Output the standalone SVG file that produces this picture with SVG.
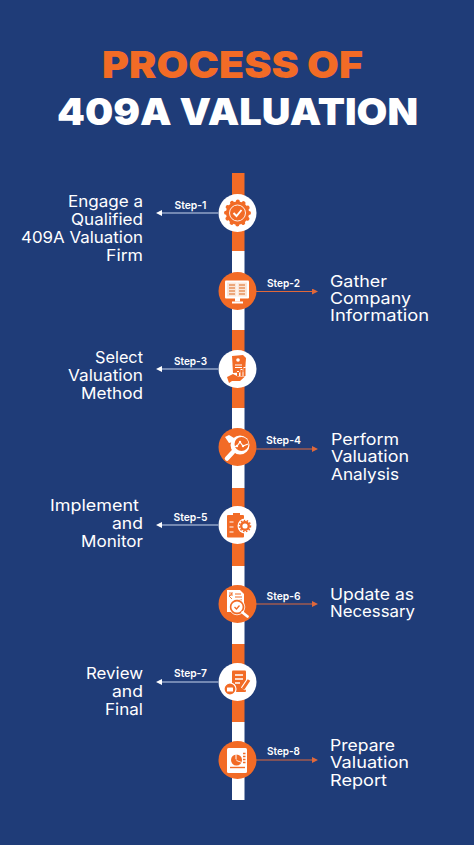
<svg xmlns="http://www.w3.org/2000/svg" width="474" height="845" viewBox="0 0 474 845">
<style>
.t{font-family:"Inter","Liberation Sans",sans-serif;font-weight:900;font-size:37px;text-anchor:middle}
.b{font-family:"Inter","Liberation Sans",sans-serif;font-size:16.500px;fill:#fff;font-weight:400}
.l{text-anchor:end}
.s{font-family:"Inter","Liberation Sans",sans-serif;font-size:11px;font-weight:600;fill:#fff;text-anchor:middle}
.o{fill:#f26b26}.w{fill:#fff}
.cw{stroke:#c9d6ee;stroke-width:1.2;fill:none}
.co{stroke:#e0683a;stroke-width:1.2;fill:none}
.lw{stroke:#fff;fill:none}
.lo{stroke:#f26b26;fill:none}
</style>
<defs>
<marker id="aw" markerUnits="userSpaceOnUse" markerWidth="7" markerHeight="7" refX="0" refY="3" orient="auto"><path d="M0 0L6 3L0 6Z" fill="#fff"/></marker>
<marker id="ao" markerUnits="userSpaceOnUse" markerWidth="7" markerHeight="7" refX="0" refY="3" orient="auto"><path d="M0 0L6 3L0 6Z" fill="#e0683a"/></marker>
</defs>
<rect width="474" height="845" fill="#1f3c78"/>
<text class="t" x="232.500" y="78" fill="#f26b26" textLength="261" lengthAdjust="spacingAndGlyphs">PROCESS OF</text>
<text class="t" x="237.500" y="125" fill="#fff" textLength="361" lengthAdjust="spacingAndGlyphs">409A VALUATION</text>
<g id="spine">
<rect class="o" x="232" y="173" width="12.500" height="78"/><rect class="w" x="232" y="251" width="12.500" height="79"/>
<rect class="o" x="232" y="330" width="12.500" height="78"/><rect class="w" x="232" y="408" width="12.500" height="80"/>
<rect class="o" x="232" y="488" width="12.500" height="78"/><rect class="w" x="232" y="566" width="12.500" height="78"/>
<rect class="o" x="232" y="644" width="12.500" height="78"/><rect class="w" x="232" y="722" width="12.500" height="78"/>
</g>
<g id="connectors">
<path class="cw" d="M218 213H162" marker-end="url(#aw)"/>
<path class="co" d="M256 291.500H312" marker-end="url(#ao)"/>
<path class="cw" d="M218 369H162" marker-end="url(#aw)"/>
<path class="co" d="M256 449H312" marker-end="url(#ao)"/>
<path class="cw" d="M218 525H162" marker-end="url(#aw)"/>
<path class="co" d="M256 604H312" marker-end="url(#ao)"/>
<path class="cw" d="M218 682H162" marker-end="url(#aw)"/>
<path class="co" d="M256 760H312" marker-end="url(#ao)"/>
</g>
<g id="n1"><circle class="w" cx="237.500" cy="213" r="19"/>
<circle class="o" cx="237.500" cy="213" r="11.500"/><circle cx="237.500" cy="213" r="11.500" fill="none" stroke="#f26b26" stroke-width="4" stroke-linecap="round" stroke-dasharray="0.01 6.010"/>
<circle class="lw" cx="237.500" cy="213" r="8" stroke-width=".9"/><path class="lw" d="M233.500 213l3 3 5-6" stroke-width="1.900"/>
<text class="s" x="190.500" y="208.500" textLength="32" lengthAdjust="spacingAndGlyphs">Step-1</text>
<text class="b l" x="143" y="207" textLength="75" lengthAdjust="spacingAndGlyphs">Engage a</text><text class="b l" x="143" y="225" textLength="72" lengthAdjust="spacingAndGlyphs">Qualified</text><text class="b l" x="143" y="243" textLength="122" lengthAdjust="spacingAndGlyphs">409A Valuation</text><text class="b l" x="143" y="261" textLength="37" lengthAdjust="spacingAndGlyphs">Firm</text></g>
<g id="n2"><circle class="o" cx="237.500" cy="291" r="19"/><rect class="w" x="225" y="280.500" width="24" height="18" rx="1"/><rect x="227" y="282.500" width="20" height="14" fill="#fbe6d8"/><path class="w" d="M236.500 282.500h1v14h-1z"/>
<path d="M229 285h6M229 288h6M229 291h6M229 294h6M239 285h6M239 288h6M239 291h6M239 294h6" stroke="#e8935c" stroke-width="1.300" fill="none"/><rect class="w" x="235" y="298" width="5" height="3.500"/><rect class="w" x="232" y="301.500" width="11" height="2"/>
<text class="s" x="283.500" y="287" textLength="33" lengthAdjust="spacingAndGlyphs">Step-2</text>
<text class="b" x="330" y="287" textLength="57" lengthAdjust="spacingAndGlyphs">Gather</text><text class="b" x="330" y="304" textLength="81" lengthAdjust="spacingAndGlyphs">Company</text><text class="b" x="330" y="321" textLength="99" lengthAdjust="spacingAndGlyphs">Information</text></g>
<g id="n3"><circle class="w" cx="237.500" cy="369" r="19"/><path class="o" d="M232 356l11-1 3 3-1 14-12 1z"/><circle cx="238" cy="360" r="1.800" class="w"/><path class="lw" d="M235 365h7M235 367.500h7" stroke-width="1"/>
<path class="o" d="M227 377l6-3 5 2.500h7l-5 4.500h-8l-3 2z"/><path class="lw" d="M238 376v-5M241.500 376v-7M244.500 376v-9" stroke-width="2"/><path class="lo" d="M238 376v-4M241.500 376v-6M244.500 376v-8" stroke-width="2"/>
<text class="s" x="190.500" y="365" textLength="33" lengthAdjust="spacingAndGlyphs">Step-3</text>
<text class="b l" x="143" y="363" textLength="48" lengthAdjust="spacingAndGlyphs">Select</text><text class="b l" x="143" y="381" textLength="75" lengthAdjust="spacingAndGlyphs">Valuation</text><text class="b l" x="143" y="399" textLength="62" lengthAdjust="spacingAndGlyphs">Method</text></g>
<g id="n4"><circle class="o" cx="237.500" cy="447" r="19"/><circle class="w" cx="240" cy="445" r="9.500"/><circle class="o" cx="241.500" cy="444" r="7"/><path class="lw" d="M233 447l4-1 3-4 3 4 5-2" stroke-width="1.200"/><circle class="w" cx="237" cy="446" r="1.200"/><circle class="w" cx="240" cy="442" r="1.200"/><circle class="w" cx="243" cy="446" r="1.200"/>
<path class="lw" d="M233 452l-6 6.500" stroke-width="4.500" stroke-linecap="round"/><path class="w" d="M225 437l4-2 5 3-1 4-4 1z"/>
<text class="s" x="283.500" y="444" textLength="35" lengthAdjust="spacingAndGlyphs">Step-4</text>
<text class="b" x="331" y="444.500" textLength="68" lengthAdjust="spacingAndGlyphs">Perform</text><text class="b" x="331" y="462" textLength="78" lengthAdjust="spacingAndGlyphs">Valuation</text><text class="b" x="331" y="479.500" textLength="68" lengthAdjust="spacingAndGlyphs">Analysis</text></g>
<g id="n5"><circle class="w" cx="237.500" cy="525" r="19"/><rect class="o" x="227" y="515" width="17" height="22.500" rx="1"/><rect class="o" x="233" y="513" width="7" height="3.500"/>
<circle class="w" cx="245" cy="526" r="7.500"/><circle class="lo" cx="245" cy="526" r="3.800" stroke-width="2.400"/><circle class="lo" cx="245" cy="526" r="5.500" stroke-width="1.500" stroke-dasharray="1.500 1.500"/>
<path class="lw" d="M229.500 522h4M229.500 527h4M229.500 532h4" stroke-width="1.200"/>
<text class="s" x="190.500" y="521" textLength="34" lengthAdjust="spacingAndGlyphs">Step-5</text>
<text class="b l" x="139" y="510.500" textLength="89" lengthAdjust="spacingAndGlyphs">Implement</text><text class="b l" x="143" y="528.500" textLength="31" lengthAdjust="spacingAndGlyphs">and</text><text class="b l" x="143" y="546.500" textLength="62" lengthAdjust="spacingAndGlyphs">Monitor</text></g>
<g id="n6"><circle class="o" cx="237.500" cy="604" r="19"/><path class="w" d="M227 590h13l4 4v18h-17z"/><path d="M229 593h4M229 595h4M231.500 593q1 2-2.500 3l3 3" stroke="#f26b26" stroke-width=".9" fill="none"/><path class="lo" d="M235 594h6M235 597h7M235 600h7" stroke-width="1.100"/>
<circle cx="237" cy="607" r="6.500" fill="#fff" stroke="#f26b26" stroke-width="1.800"/><path class="lo" d="M234.500 607l2 2 3-3.500" stroke-width="1.300"/><circle class="lw" cx="237" cy="607" r="7.800" stroke-width=".8"/>
<path class="lw" d="M242.500 612.500l5 4" stroke-width="2.800" stroke-linecap="round"/>
<text class="s" x="283.500" y="599.500" textLength="34" lengthAdjust="spacingAndGlyphs">Step-6</text>
<text class="b" x="330" y="600" textLength="84" lengthAdjust="spacingAndGlyphs">Update as</text><text class="b" x="330" y="617" textLength="85" lengthAdjust="spacingAndGlyphs">Necessary</text></g>
<g id="n7"><circle class="w" cx="237.500" cy="682" r="19"/><rect class="o" x="232" y="670.500" width="14" height="21.500" rx="1"/><path class="lw" d="M235 675h8M235 679h8M235 683h5" stroke-width="1.400"/>
<path d="M243 689l6-9" stroke="#fff" stroke-width="5" fill="none"/><path class="lo" d="M243 689l6-9" stroke-width="3"/>
<circle cx="230" cy="689" r="6" fill="#f26b26" stroke="#fff" stroke-width="1.200"/><rect class="w" x="227" y="687.500" width="6" height="4" rx=".5"/>
<text class="s" x="190.500" y="677" textLength="33" lengthAdjust="spacingAndGlyphs">Step-7</text>
<text class="b l" x="143" y="678.500" textLength="57" lengthAdjust="spacingAndGlyphs">Review</text><text class="b l" x="143" y="696.500" textLength="31" lengthAdjust="spacingAndGlyphs">and</text><text class="b l" x="143" y="714.500" textLength="38" lengthAdjust="spacingAndGlyphs">Final</text></g>
<g id="n8"><circle class="o" cx="237.500" cy="760" r="19"/><rect class="w" x="227" y="748" width="20" height="25" rx="1.500"/><circle class="o" cx="236.500" cy="760" r="5.500"/><path class="w" d="M236.500 760v-6l-1 0v5z"/><path class="w" d="M236.500 760l5 2v.8l-5-1.800z"/><path class="lo" d="M243 753.500h2.500M243 756.500h2.500M243 759.500h2.500M243 762.500h2.500" stroke-width="1.400"/><path class="lo" d="M230 767.500h15" stroke-width="1.400"/>
<text class="s" x="283.500" y="755" textLength="33" lengthAdjust="spacingAndGlyphs">Step-8</text>
<text class="b" x="330" y="750.500" textLength="65" lengthAdjust="spacingAndGlyphs">Prepare</text><text class="b" x="330" y="768" textLength="79" lengthAdjust="spacingAndGlyphs">Valuation</text><text class="b" x="330" y="785.500" textLength="57" lengthAdjust="spacingAndGlyphs">Report</text></g>
</svg>
